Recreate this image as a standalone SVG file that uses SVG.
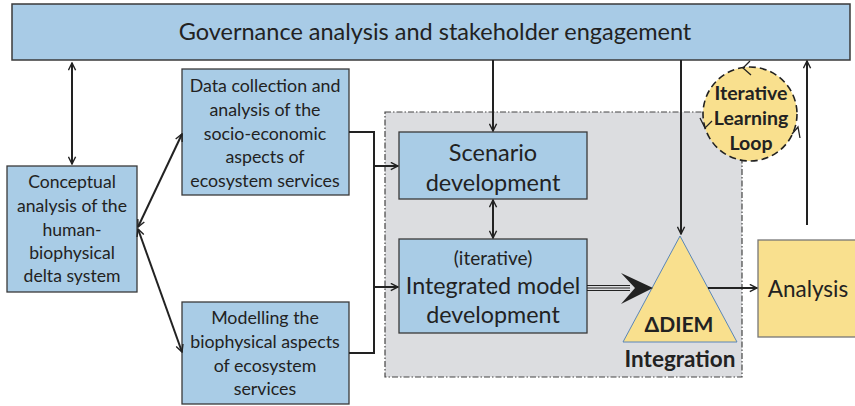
<svg xmlns="http://www.w3.org/2000/svg" width="855" height="406" viewBox="0 0 855 406">
<defs>
<style>
.box{fill:#a9cce6;stroke:#3a3a3a;stroke-width:1.3}
.t{font-family:Lato,"Liberation Sans",sans-serif;fill:#222;text-anchor:middle;dominant-baseline:central}
.b{font-weight:bold}
.ln{fill:none;stroke:#222;stroke-width:2}
.th{fill:none;stroke:#222;stroke-width:1.3}
</style>
<marker id="ah" viewBox="0 0 10 10" refX="9" refY="5" markerWidth="9" markerHeight="9" markerUnits="userSpaceOnUse" orient="auto-start-reverse">
<path d="M1,1 L9,5 L1,9" fill="none" stroke="#222" stroke-width="1.6"/>
</marker>
</defs>
<rect x="0" y="0" width="855" height="406" fill="#fff"/>

<g id="region">
<rect x="385" y="112" width="357" height="265" fill="#dcdde0" stroke="#444" stroke-width="1.2" stroke-dasharray="6 2 1.5 2"/>
</g>

<g id="governance">
<rect x="12" y="4" width="838" height="56" fill="#a8cbe6" stroke="#3a3a3a" stroke-width="1.5"/>
<text class="t" x="435" y="31" font-size="23.5">Governance analysis and stakeholder engagement</text>
</g>

<g id="conceptual">
<rect class="box" x="7" y="166" width="130" height="126"/>
<text class="t" font-size="17.6"><tspan x="72" y="181">Conceptual</tspan><tspan x="72" y="205">analysis of the</tspan><tspan x="72" y="229">human-</tspan><tspan x="72" y="252">biophysical</tspan><tspan x="72" y="275">delta system</tspan></text>
</g>

<g id="datacollection">
<rect class="box" x="182" y="69" width="167" height="126"/>
<text class="t" font-size="17.8"><tspan x="265" y="85">Data collection and</tspan><tspan x="265" y="109">analysis of the</tspan><tspan x="265" y="133">socio-economic</tspan><tspan x="265" y="156">aspects of</tspan><tspan x="265" y="180">ecosystem services</tspan></text>
</g>

<g id="modelling">
<rect class="box" x="182" y="302" width="167" height="102"/>
<text class="t" font-size="17.8"><tspan x="265" y="317">Modelling the</tspan><tspan x="265" y="341">biophysical aspects</tspan><tspan x="265" y="365">of ecosystem</tspan><tspan x="265" y="388">services</tspan></text>
</g>

<g id="scenario">
<rect class="box" x="399" y="132" width="188" height="67"/>
<text class="t" font-size="23.5"><tspan x="493" y="152">Scenario</tspan><tspan x="493" y="182">development</tspan></text>
</g>

<g id="integrated">
<rect class="box" x="399" y="239" width="188" height="94"/>
<text class="t" font-size="19" x="493" y="257">(iterative)</text>
<text class="t" font-size="23.3"><tspan x="493" y="285">Integrated model</tspan><tspan x="493" y="314">development</tspan></text>
</g>

<g id="diem">
<polygon points="680,236 623,342 737,342" fill="#f9e08e" stroke="#5a86b8" stroke-width="1"/>
<text class="t b" font-size="21" x="679" y="323">ΔDIEM</text>
<text class="t b" font-size="22.5" x="680" y="358">Integration</text>
</g>

<g id="analysis">
<rect x="758" y="240" width="100" height="97" fill="#f9e08e" stroke="#777" stroke-width="1.3"/>
<text class="t" font-size="22.5" x="808" y="288">Analysis</text>
</g>

<g id="loop">
<circle cx="750" cy="114" r="47" fill="#f9e08e" stroke="#222" stroke-width="1.6" stroke-dasharray="7 4"/>
<text class="t b" font-size="19.5"><tspan x="751" y="92">Iterative</tspan><tspan x="751" y="117">Learning</tspan><tspan x="751" y="142">Loop</tspan></text>
<path class="th" d="M750,61 L743,68 L751,75"/>
<path class="th" d="M700,118 L705,128 L712,121"/>
<path class="th" d="M792,134 L798,127 L800,138"/>
</g>

<g id="connectors">
<line class="ln" x1="72" y1="63" x2="72" y2="164" marker-start="url(#ah)" marker-end="url(#ah)"/>
<line class="ln" x1="138" y1="227" x2="182" y2="134" marker-start="url(#ah)" marker-end="url(#ah)"/>
<line class="ln" x1="138" y1="229" x2="182" y2="352" marker-start="url(#ah)" marker-end="url(#ah)"/>
<line class="ln" x1="493" y1="60" x2="493" y2="131" marker-end="url(#ah)"/>
<line class="ln" x1="493" y1="200" x2="493" y2="238" marker-start="url(#ah)" marker-end="url(#ah)"/>
<polyline class="ln" points="349,132 374,132 374,353 349,353"/>
<line class="ln" x1="374" y1="166" x2="398" y2="166" marker-end="url(#ah)"/>
<line class="ln" x1="374" y1="287" x2="398" y2="287" marker-end="url(#ah)"/>
<line class="ln" x1="681" y1="60" x2="681" y2="234" marker-end="url(#ah)"/>
<line class="ln" x1="807" y1="225" x2="807" y2="61" marker-end="url(#ah)"/>
<line class="ln" x1="708" y1="288" x2="757" y2="288" marker-end="url(#ah)"/>
<g stroke="#222" stroke-width="1">
<line x1="587" y1="285.5" x2="630" y2="285.5"/>
<line x1="587" y1="288" x2="630" y2="288"/>
<line x1="587" y1="290.5" x2="630" y2="290.5"/>
</g>
<path d="M653,288 L621,273 L635,288 L621,304 Z" fill="#222"/>
</g>
</svg>
